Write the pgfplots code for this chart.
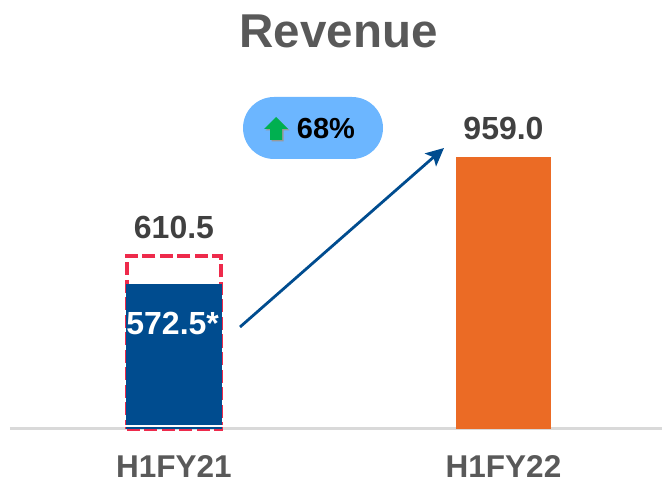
\documentclass[border=0pt]{standalone}
\usepackage{pgfplots}
\pgfplotsset{compat=1.18}
\usetikzlibrary{arrows.meta}
\usepackage{fontspec}
\setmainfont{Liberation Sans}
\definecolor{barblue}{HTML}{004C8F}
\definecolor{barorange}{HTML}{EB6B25}
\definecolor{dashred}{HTML}{EE2A4B}
\definecolor{pill}{HTML}{6CB6FF}
\definecolor{arrowgreen}{HTML}{00B050}
\definecolor{titlegray}{HTML}{595959}
\definecolor{labelgray}{HTML}{404040}
\begin{document}
\begin{tikzpicture}[x=1pt,y=1pt]
\path[use as bounding box] (0,0) rectangle (662,480);
\begin{axis}[
  at={(10pt,51.5pt)}, anchor=south west,
  scale only axis, width=652pt, height=428.5pt,
  xmin=-0.4977, xmax=1.481, ymin=0, ymax=1513.6,
  axis x line=bottom, axis y line=none,
  x axis line style={draw=black!15, line width=2.5pt, -},
  xtick={0,1}, xticklabels={H1FY21,H1FY22},
  major tick length=0pt,
  xticklabel style={font=\fontsize{31.5}{33}\selectfont\bfseries, text=titlegray, inner sep=0pt, text depth=0pt, yshift=-26.5pt},
  clip=false,
]
\addplot[ybar, bar width=94pt, bar shift=0pt, fill=none, draw=dashred, line width=4pt, dash pattern=on 13pt off 4.5pt] coordinates {(0,610.5)};
\addplot[ybar, bar width=96pt, bar shift=0pt, fill=barblue, draw=none] coordinates {(0,510.4)};
\addplot[ybar, bar width=95pt, bar shift=0pt, fill=barorange, draw=none] coordinates {(1,959)};
\fill[white] (axis cs:-0.15,7) rectangle (axis cs:0.15,14);
\node[font=\fontsize{32}{34}\selectfont\bfseries, text=labelgray] at (axis cs:0,711.8) {610.5};
\node[font=\fontsize{32}{34}\selectfont\bfseries, text=labelgray] at (axis cs:1,1061.5) {959.0};
\node[font=\fontsize{32}{34}\selectfont\bfseries, text=white] at (axis cs:-0.004,371) {572.5*};
\end{axis}
\node[font=\fontsize{47.5}{50}\selectfont\bfseries, text=titlegray] at (338.5,449) {Revenue};
\fill[pill, rounded corners=31pt] (243,321) rectangle (383,383);
\draw[barblue, line width=2.8pt, -{Stealth[length=18pt,width=17pt,inset=4pt]}] (240,153) -- (444,332);
\fill[black!40] (271.5,338.5) -- ++(0,11) -- ++(-6,0) -- ++(12,12) -- ++(12,-12) -- ++(-6,0) -- ++(0,-11) -- cycle;
\fill[arrowgreen] (270,340) -- (270,351) -- (264,351) -- (276,363) -- (288,351) -- (282,351) -- (282,340) -- cycle;
\node[font=\fontsize{29}{32}\selectfont\bfseries, text=black] at (326,351) {68\%};
\end{tikzpicture}
\end{document}
